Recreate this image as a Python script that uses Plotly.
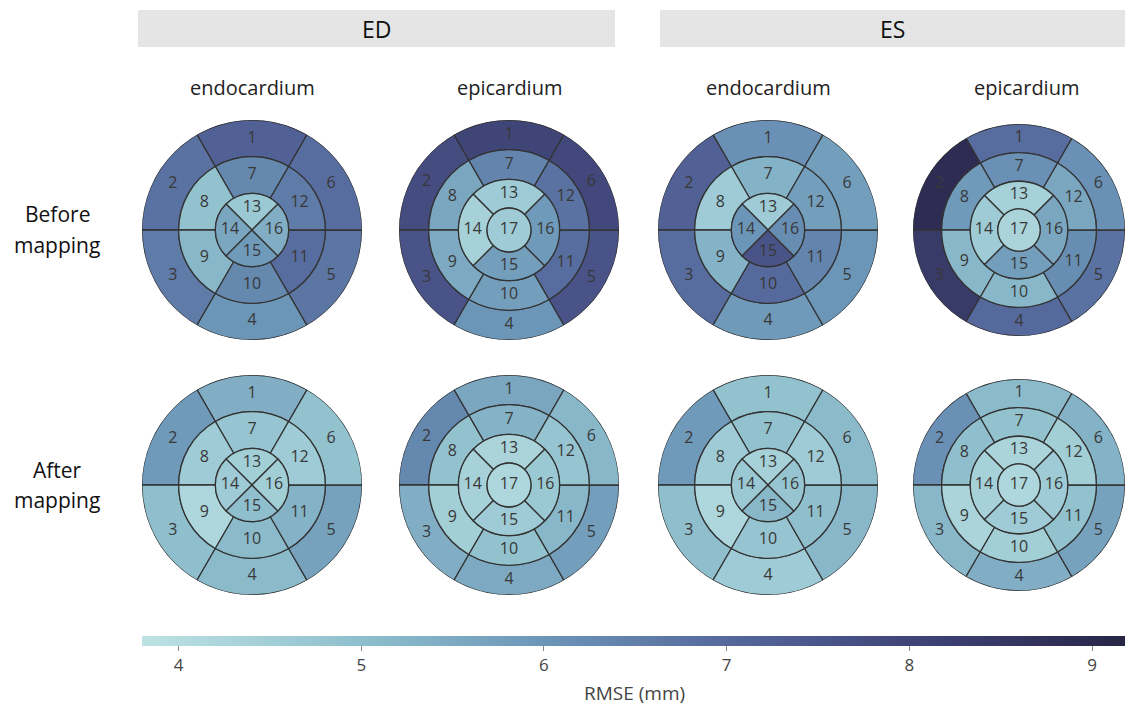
import plotly.graph_objects as go

# ---------------- data (RMSE in mm per AHA segment) ----------------
ed_endo_before = [7.2, 6.8, 6.6, 6.0, 6.7, 6.9, 6.3, 4.9, 5.2, 6.3, 6.9, 6.6, 4.7, 5.6, 5.9, 5.4]
ed_epi_before = [8.0, 7.8, 7.6, 6.0, 7.6, 7.9, 6.4, 5.6, 5.5, 5.8, 6.9, 6.8, 4.6, 4.4, 5.8, 5.9, 4.6]
es_endo_before = [6.1, 7.2, 6.9, 5.9, 6.0, 5.8, 5.3, 4.6, 5.3, 7.0, 6.4, 5.8, 4.6, 6.0, 7.6, 6.2]
es_epi_before = [6.9, 8.9, 8.4, 7.0, 6.8, 6.1, 6.1, 5.9, 5.2, 5.2, 6.2, 5.6, 4.4, 4.6, 5.8, 5.6, 4.3]

ed_endo_after = [5.4, 5.9, 5.0, 5.1, 5.7, 4.9, 4.8, 4.6, 4.2, 5.1, 5.3, 4.6, 4.5, 4.6, 5.0, 4.5]
ed_epi_after = [5.6, 6.3, 5.4, 5.5, 5.8, 5.2, 5.3, 4.9, 4.5, 4.9, 5.2, 4.8, 4.3, 4.4, 4.6, 4.7, 4.2]
es_endo_after = [4.9, 5.9, 5.0, 4.6, 5.2, 5.1, 4.9, 4.6, 4.2, 4.8, 5.0, 4.6, 4.4, 4.7, 5.2, 4.8]
es_epi_after = [5.1, 6.1, 5.2, 5.4, 5.7, 5.3, 4.9, 5.0, 4.3, 4.5, 4.9, 4.5, 4.3, 4.4, 4.6, 4.6, 4.2]

phases = ["ED", "ES"]
layers = ["endocardium", "epicardium"]
row_titles = [["Before", "mapping"], ["After", "mapping"]]
colorbar_ticks = [4, 5, 6, 7, 8, 9]
colorbar_title = "RMSE (mm)"
rmse_min, rmse_max = 3.8, 9.18

panels = [
    (0, 0, "endocardium", ed_endo_before), (0, 1, "epicardium", ed_epi_before),
    (0, 2, "endocardium", es_endo_before), (0, 3, "epicardium", es_epi_before),
    (1, 0, "endocardium", ed_endo_after), (1, 1, "epicardium", ed_epi_after),
    (1, 2, "endocardium", es_endo_after), (1, 3, "epicardium", es_epi_after),
]

# ---------------- geometry (AHA 17-segment layout) ----------------
ring6 = [90, 150, 210, 270, 330, 30]
ring4 = [90, 180, 270, 0]
RINGS = {
    "endocardium": [((2 / 3, 1.0), 0.83), ((1 / 3, 2 / 3), 0.50), ((0.0, 1 / 3), 0.20)],
    "epicardium": [((0.73, 1.0), 0.865), ((0.46, 0.73), 0.595), ((0.20, 0.46), 0.33), ((0.0, 0.20), 0.0)],
}


def segment_geometry(layer):
    geo = []
    for i, ((r0, r1), lr) in enumerate(RINGS[layer]):
        if i < 2:
            angles, w = ring6, 60
        elif i == 2:
            angles, w = ring4, 90
        else:
            angles, w = [0], 360
        for a in angles:
            geo.append((a, w, r0, r1 - r0, lr))
    return geo


W, H = 1125, 707
col_cx = [252, 509, 768, 1026]
row_cy = [230, 485]
R = 110
FONT = "Open Sans"

colorscale = [
    [0.000, "#bde2e3"], [0.037, "#b5dde0"], [0.222, "#8fbfcd"], [0.407, "#6c96b8"],
    [0.593, "#56699c"], [0.778, "#404579"], [0.963, "#2c2a50"], [1.000, "#282645"],
]

fig = go.Figure()
layout_polars = {}
for k, (row, col, layer, vals) in enumerate(panels):
    name = "polar" if k == 0 else f"polar{k + 1}"
    geo = segment_geometry(layer)
    cx, cy = col_cx[col], row_cy[row]
    r_px = R
    if cx + R > W:  # last column: keep inside the page
        r_px = 106
        cx = W - r_px
    dom_x = [(cx - r_px) / W, (cx + r_px) / W]
    dom_y = [1 - (cy + r_px) / H, 1 - (cy - r_px) / H]
    fig.add_trace(go.Barpolar(
        theta=[g[0] for g in geo], width=[g[1] for g in geo],
        base=[g[2] for g in geo], r=[g[3] for g in geo],
        marker=dict(color=vals, coloraxis="coloraxis", line=dict(color="#333333", width=1.3)),
        subplot=name, hoverinfo="skip", showlegend=False,
    ))
    fig.add_trace(go.Scatterpolar(
        r=[g[4] for g in geo], theta=[g[0] for g in geo],
        text=[str(i + 1) for i in range(len(geo))], mode="text",
        textfont=dict(family=FONT, size=16, color="#383838"),
        subplot=name, hoverinfo="skip", showlegend=False,
    ))
    layout_polars[name] = dict(
        domain=dict(x=dom_x, y=dom_y), bgcolor="rgba(0,0,0,0)", hole=0,
        radialaxis=dict(visible=False, range=[0, 1], showgrid=False),
        angularaxis=dict(visible=False, direction="counterclockwise", rotation=0, showgrid=False),
        barmode="overlay",
    )

fig.update_layout(**layout_polars)

fig.update_layout(
    width=W, height=H, margin=dict(l=0, r=0, t=0, b=0, autoexpand=False),
    paper_bgcolor="white", plot_bgcolor="white",
    font=dict(family=FONT, color="#333333"),
    coloraxis=dict(
        colorscale=colorscale, cmin=rmse_min, cmax=rmse_max,
        colorbar=dict(
            orientation="h", x=142 / W, xanchor="left", y=1 - 636 / H, yanchor="top",
            len=W - 142, lenmode="pixels", thickness=10, thicknessmode="pixels",
            xpad=0, ypad=0, outlinewidth=0,
            tickvals=colorbar_ticks, ticks="outside", ticklen=5, tickcolor="#888888",
            tickfont=dict(family=FONT, size=17, color="#444444"),
        ),
    ),
)

# colorbar title
fig.add_annotation(x=634 / W, y=1 - 693 / H, xref="paper", yref="paper",
                   text=colorbar_title, showarrow=False, xanchor="center", yanchor="middle",
                   font=dict(family=FONT, size=19, color="#444444"))

# header strips
strips = [(138, 615), (660, 1125)]
for (x0, x1), ph in zip(strips, phases):
    fig.add_shape(type="rect", xref="paper", yref="paper",
                  x0=x0 / W, x1=x1 / W, y0=1 - 47 / H, y1=1 - 10 / H,
                  fillcolor="#e5e5e5", line=dict(width=0), layer="below")
    fig.add_annotation(x=(x0 + x1) / 2 / W, y=1 - 29 / H, xref="paper", yref="paper",
                       text=ph, showarrow=False, xanchor="center", yanchor="middle",
                       font=dict(family=FONT, size=23, color="#111111"))

# column titles
for col, cx in enumerate(col_cx):
    fig.add_annotation(x=cx / W, y=1 - 88 / H, xref="paper", yref="paper",
                       text=layers[col % 2], showarrow=False, xanchor="center", yanchor="middle",
                       font=dict(family=FONT, size=20, color="#222222"))

# row titles
row_line_y = [[214, 245], [470, 500]]
for row in range(2):
    for txt, yy in zip(row_titles[row], row_line_y[row]):
        fig.add_annotation(x=57 / W, y=1 - yy / H, xref="paper", yref="paper",
                           text=txt, showarrow=False, xanchor="center", yanchor="middle",
                           font=dict(family=FONT, size=21, color="#111111"))

fig.write_html("out.html")
